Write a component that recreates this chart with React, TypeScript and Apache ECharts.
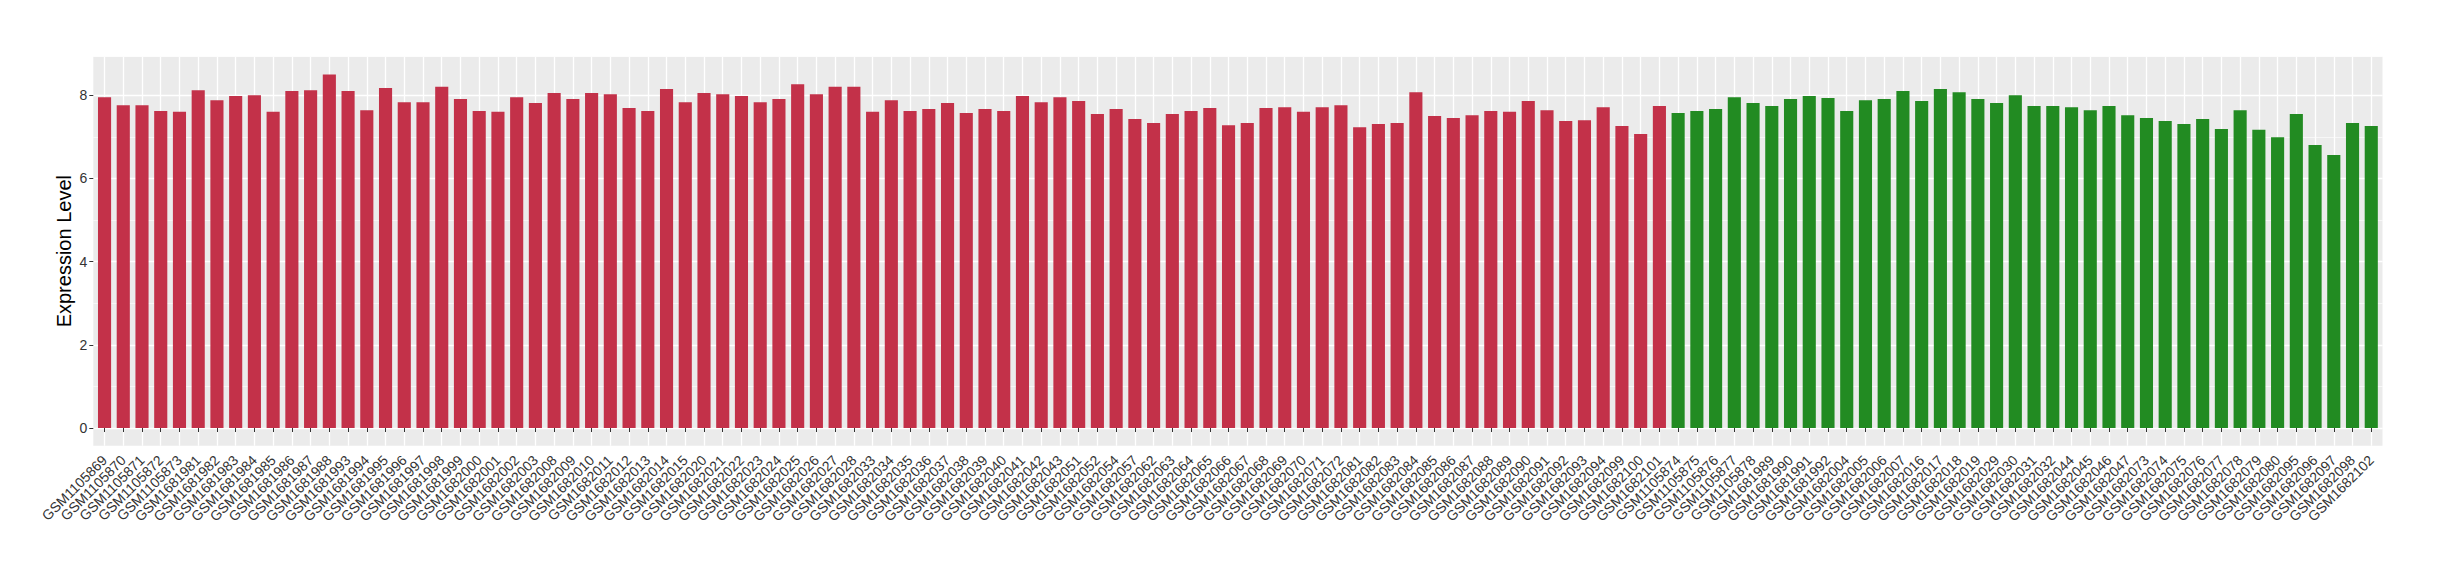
import React, { useEffect, useRef } from "react";
import * as echarts from "echarts";

const groupASamples = [
  "GSM1105869", "GSM1105870", "GSM1105871", "GSM1105872", "GSM1105873",
  "GSM1681981", "GSM1681982", "GSM1681983", "GSM1681984", "GSM1681985", "GSM1681986", "GSM1681987", "GSM1681988",
  "GSM1681993", "GSM1681994", "GSM1681995", "GSM1681996", "GSM1681997", "GSM1681998", "GSM1681999",
  "GSM1682000", "GSM1682001", "GSM1682002", "GSM1682003",
  "GSM1682008", "GSM1682009", "GSM1682010", "GSM1682011", "GSM1682012", "GSM1682013", "GSM1682014", "GSM1682015",
  "GSM1682020", "GSM1682021", "GSM1682022", "GSM1682023", "GSM1682024", "GSM1682025", "GSM1682026", "GSM1682027", "GSM1682028",
  "GSM1682033", "GSM1682034", "GSM1682035", "GSM1682036", "GSM1682037", "GSM1682038", "GSM1682039", "GSM1682040", "GSM1682041", "GSM1682042", "GSM1682043",
  "GSM1682051", "GSM1682052", "GSM1682054", "GSM1682057", "GSM1682062", "GSM1682063", "GSM1682064", "GSM1682065", "GSM1682066", "GSM1682067", "GSM1682068", "GSM1682069", "GSM1682070", "GSM1682071", "GSM1682072",
  "GSM1682081", "GSM1682082", "GSM1682083", "GSM1682084", "GSM1682085", "GSM1682086", "GSM1682087", "GSM1682088", "GSM1682089", "GSM1682090", "GSM1682091", "GSM1682092", "GSM1682093", "GSM1682094",
  "GSM1682099", "GSM1682100", "GSM1682101",
];

const groupAValues = [
  7.95, 7.76, 7.76, 7.62, 7.60,
  8.12, 7.88, 7.98, 8.00, 7.60, 8.10, 8.12, 8.50,
  8.10, 7.64, 8.17, 7.83, 7.83, 8.20, 7.91,
  7.62, 7.60, 7.95, 7.81,
  8.05, 7.91, 8.05, 8.02, 7.69, 7.62, 8.15, 7.83,
  8.05, 8.02, 7.98, 7.83, 7.91, 8.26, 8.02, 8.20, 8.20,
  7.60, 7.88, 7.62, 7.67, 7.81, 7.57, 7.67, 7.62, 7.98, 7.83, 7.95,
  7.86, 7.55, 7.67, 7.43, 7.33, 7.55, 7.62, 7.69, 7.28, 7.33, 7.69, 7.71, 7.60, 7.71, 7.76,
  7.23, 7.31, 7.33, 8.07, 7.50, 7.45, 7.52, 7.62, 7.60, 7.86, 7.64, 7.38, 7.40, 7.71,
  7.26, 7.07, 7.74,
];

const groupBSamples = [
  "GSM1105874", "GSM1105875", "GSM1105876", "GSM1105877", "GSM1105878",
  "GSM1681989", "GSM1681990", "GSM1681991", "GSM1681992",
  "GSM1682004", "GSM1682005", "GSM1682006", "GSM1682007",
  "GSM1682016", "GSM1682017", "GSM1682018", "GSM1682019",
  "GSM1682029", "GSM1682030", "GSM1682031", "GSM1682032",
  "GSM1682044", "GSM1682045", "GSM1682046", "GSM1682047",
  "GSM1682073", "GSM1682074", "GSM1682075", "GSM1682076", "GSM1682077", "GSM1682078", "GSM1682079", "GSM1682080",
  "GSM1682095", "GSM1682096", "GSM1682097", "GSM1682098", "GSM1682102",
];

const groupBValues = [
  7.57, 7.62, 7.67, 7.95, 7.81,
  7.74, 7.91, 7.98, 7.93,
  7.62, 7.88, 7.91, 8.10,
  7.86, 8.15, 8.07, 7.91,
  7.81, 8.00, 7.74, 7.74,
  7.71, 7.64, 7.74, 7.52,
  7.45, 7.38, 7.31, 7.43, 7.19, 7.64, 7.17, 6.99,
  7.55, 6.80, 6.56, 7.33, 7.26,
];

const yTicks = [0, 2, 4, 6, 8];
const yTitle = "Expression Level";

const FONT = "'Liberation Sans', Arial, Helvetica, sans-serif";

export default function App() {
  const ref = useRef<HTMLDivElement>(null);

  useEffect(() => {
    if (!ref.current) return;
    const chart = echarts.init(ref.current, null, { renderer: "svg" });

    const categories = [...groupASamples, ...groupBSamples];
    const n = categories.length;
    const seriesA = [...groupAValues, ...groupBValues.map(() => null)];
    const seriesB = [...groupAValues.map(() => null), ...groupBValues];

    // panel layout (ggplot-like)
    const pLeft = 93.3;
    const pRight = 2382.5;
    const pTop = 56.7;
    const pBottom = 445.7;
    const band = (pRight - pLeft) / (n - 1 + 1.2);
    const allVals = [...groupAValues, ...groupBValues];
    const dMax = Math.max(...allVals);
    const yMin = -0.05 * dMax;
    const yMax = dMax * 1.05;
    const unit = (pBottom - pTop) / (yMax - yMin);
    const zeroY = pTop + yMax * unit;

    const axisText = { fontFamily: FONT, fontSize: 14, color: "#333333" };

    chart.setOption({
      animation: false,
      backgroundColor: "#FFFFFF",
      textStyle: { fontFamily: FONT, fontSize: 14 },
      graphic: {
        elements: [
          {
            type: "rect",
            z: -10,
            silent: true,
            shape: { x: pLeft, y: pTop, width: pRight - pLeft, height: pBottom - pTop },
            style: { fill: "#EBEBEB" },
          },
        ],
      },
      grid: [
        {
          left: pLeft + 0.6 * band,
          width: band * (n - 1),
          top: pTop,
          height: pBottom - pTop,
        },
        {
          left: pLeft,
          width: pRight - pLeft,
          top: pTop,
          height: zeroY - pTop,
        },
      ],
      xAxis: [
        {
          type: "category",
          gridIndex: 0,
          data: categories,
          boundaryGap: false,
          axisLine: { show: false },
          axisTick: { show: true, interval: 0, length: 4, lineStyle: { color: "#333333", width: 1 } },
          splitLine: { show: true, interval: 0, lineStyle: { color: "#FFFFFF", width: 1.3 } },
          axisLabel: {
            ...axisText,
            interval: 0,
            rotate: 45,
            margin: 12,
            hideOverlap: false,
          },
        },
        {
          type: "value",
          gridIndex: 1,
          show: false,
          min: 0,
          max: 1,
        },
      ],
      yAxis: [
        {
          type: "value",
          gridIndex: 0,
          min: yMin,
          max: yMax,
          position: "left",
          offset: 0.6 * band,
          name: yTitle,
          nameLocation: "middle",
          nameGap: 19,
          nameRotate: 90,
          nameTextStyle: { fontFamily: FONT, fontSize: 20, color: "#000000" },
          axisLine: { show: false },
          axisTick: { show: false },
          axisLabel: { show: false },
          splitLine: { show: false },
        },
        {
          type: "value",
          gridIndex: 1,
          position: "left",
          min: 0,
          max: yMax,
          interval: 2,
          axisLine: { show: false },
          axisTick: {
            show: true,
            length: 4,
            customValues: yTicks,
            lineStyle: { color: "#333333", width: 1 },
          },
          axisLabel: {
            ...axisText,
            margin: 6,
            customValues: yTicks,
            formatter: (v: number) => (yTicks.includes(v) ? String(v) : ""),
          },
          splitLine: { show: true, lineStyle: { color: "#FFFFFF", width: 1.3 } },
        },
        {
          type: "value",
          gridIndex: 1,
          position: "left",
          min: 0,
          max: yMax,
          interval: 1,
          axisLine: { show: false },
          axisTick: { show: false },
          axisLabel: { show: false },
          splitLine: { show: true, lineStyle: { color: "#FFFFFF", width: 0.6 } },
        },
      ],
      series: [
        {
          type: "bar",
          name: "groupA",
          xAxisIndex: 0,
          yAxisIndex: 0,
          data: seriesA,
          barCategoryGap: "30%",
          barGap: "-100%",
          clip: false,
          itemStyle: { color: "#C33149" },
        },
        {
          type: "bar",
          name: "groupB",
          xAxisIndex: 0,
          yAxisIndex: 0,
          data: seriesB,
          barCategoryGap: "30%",
          barGap: "-100%",
          clip: false,
          itemStyle: { color: "#228B22" },
        },
      ],
    });

    return () => chart.dispose();
  }, []);

  return (
    <div
      ref={ref}
      style={{ position: "fixed", left: 0, top: 0, width: 2440, height: 580, background: "#fff" }}
    />
  );
}
